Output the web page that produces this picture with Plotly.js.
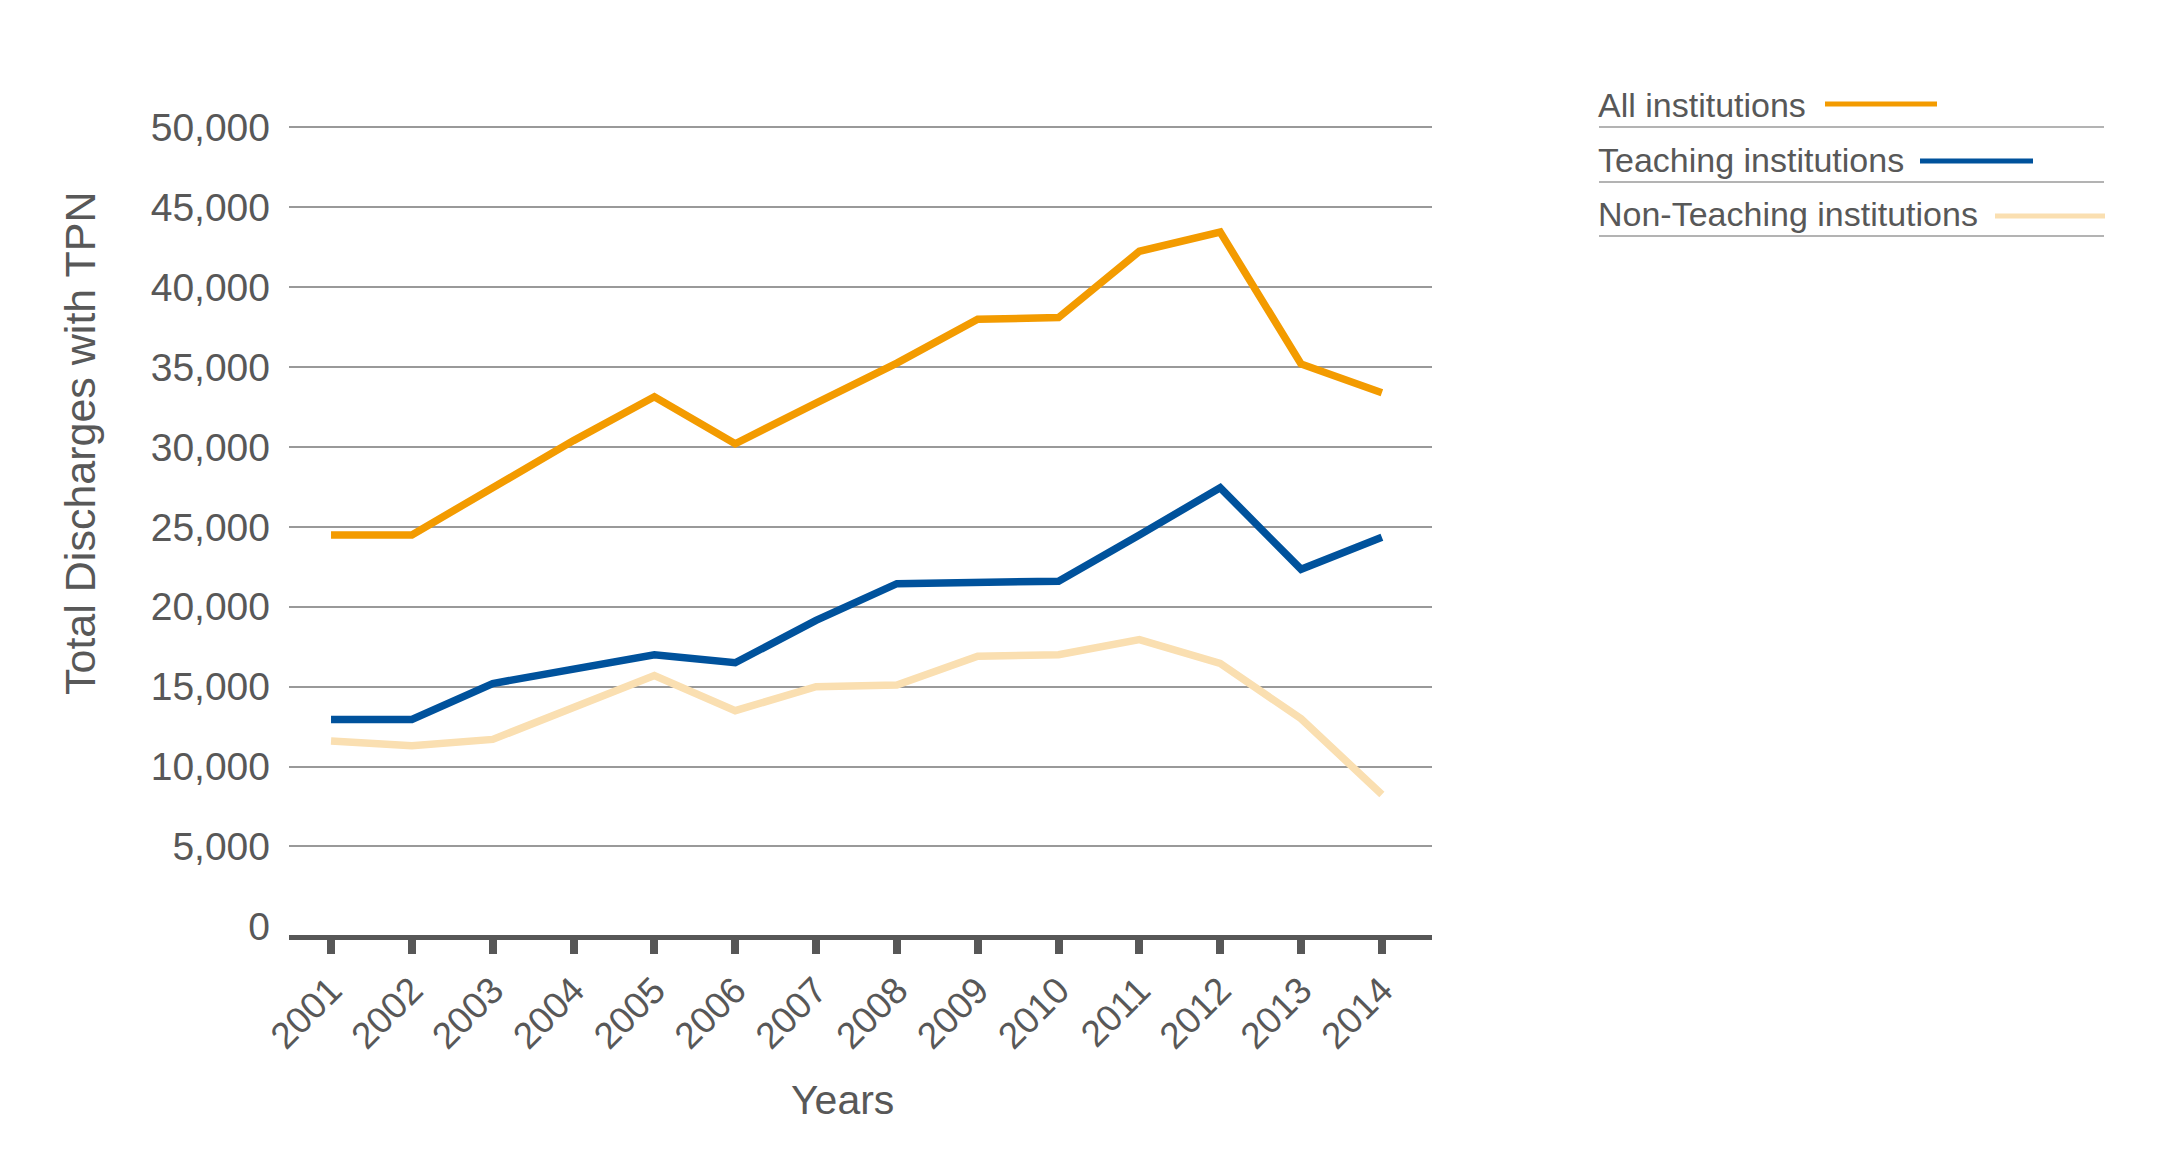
<!DOCTYPE html>
<html>
<head>
<meta charset="utf-8">
<script src="https://cdn.plot.ly/plotly-3.0.1.min.js"></script>
<style>
  html, body { margin: 0; padding: 0; background: #fff; }
  #chart { width: 2170px; height: 1157px; }
</style>
</head>
<body>
<div id="chart"></div>
<script>
/* ─── Data ─────────────────────────────────────────────────────────────── */
const years = [2001, 2002, 2003, 2004, 2005, 2006, 2007, 2008, 2009, 2010, 2011, 2012, 2013, 2014];
const allInstitutions      = [24500, 24500, 27450, 30400, 33150, 30200, 32750, 35250, 38000, 38100, 42250, 43450, 35200, 33400];
const teachingInstitutions = [12950, 12950, 15200, 16100, 17000, 16500, 19150, 21450, 21550, 21600, 24500, 27450, 22350, 24350];
const nonTeachingInstitutions = [11600, 11300, 11700, 13700, 15700, 13500, 15000, 15100, 16900, 17000, 17950, 16450, 13000, 8250];
const seriesNames = ["All institutions", "Teaching institutions", "Non-Teaching institutions"];
const seriesColors = ["#F39B00", "#00529C", "#FADFB1"];
const yTicks = [0, 5000, 10000, 15000, 20000, 25000, 30000, 35000, 40000, 45000, 50000];

/* ─── Layout geometry (pixels) ─────────────────────────────────────────── */
const W = 2170, H = 1157;
const M = { l: 289, r: 738, t: 126, b: 222 };
const plotW = W - M.l - M.r, plotH = H - M.t - M.b;
const px = x => (x - M.l) / plotW;          // page x → paper x
const py = y => (H - M.b - y) / plotH;      // page y → paper y
const TEXT = "#585858";
const FONT = "Liberation Sans, Arial, sans-serif";

const values = [allInstitutions, teachingInstitutions, nonTeachingInstitutions];
const traces = values.map((v, i) => ({
  type: "scatter", mode: "lines", x: years, y: v, name: seriesNames[i],
  line: { color: seriesColors[i], width: 7.5 }, hoverinfo: "x+y+name"
}));

/* legend drawn by hand: text first, sample line after it, rule underneath */
const legendRows = [
  { textY: 105, lineX: [1825, 1937], lineY: 104, ruleY: 127 },
  { textY: 160, lineX: [1920, 2033], lineY: 161, ruleY: 182 },
  { textY: 214, lineX: [1995, 2105], lineY: 216, ruleY: 236 },
];
const legendX = 1596, ruleEnd = 2104;

const annotations = [
  { text: "Total Discharges with TPN", xref: "paper", yref: "paper", x: px(80), y: py(444),
    textangle: -90, showarrow: false, xanchor: "center", yanchor: "middle",
    font: { family: FONT, size: 43, color: TEXT } },
  { text: "Years", xref: "paper", yref: "paper", x: px(842), y: py(1100),
    showarrow: false, xanchor: "center", yanchor: "middle",
    font: { family: FONT, size: 41, color: TEXT } },
];
const shapes = [];
legendRows.forEach((r, i) => {
  annotations.push({ text: seriesNames[i], xref: "paper", yref: "paper", x: px(legendX), y: py(r.textY),
    showarrow: false, xanchor: "left", yanchor: "middle",
    font: { family: FONT, size: 34, color: TEXT } });
  shapes.push({ type: "line", xref: "paper", yref: "paper", x0: px(r.lineX[0]), x1: px(r.lineX[1]),
    y0: py(r.lineY), y1: py(r.lineY), line: { color: seriesColors[i], width: 5 } });
  shapes.push({ type: "line", xref: "paper", yref: "paper", x0: px(legendX + 3), x1: px(ruleEnd),
    y0: py(r.ruleY), y1: py(r.ruleY), line: { color: "#9a9a9a", width: 1.5 } });
});

const layout = {
  width: W, height: H,
  margin: M,
  paper_bgcolor: "#fff", plot_bgcolor: "#fff",
  showlegend: false,
  font: { family: FONT, color: TEXT },
  xaxis: {
    range: [2000.48, 2014.62], tickvals: years, ticktext: years.map(String),
    tickangle: -45, tickfont: { family: FONT, size: 37, color: TEXT },
    ticks: "outside", ticklen: 14, tickwidth: 8, tickcolor: "#575757",
    showline: true, linecolor: "#575757", linewidth: 4.5,
    showgrid: false, zeroline: false, fixedrange: true
  },
  yaxis: {
    range: [-540, 50090], tickvals: yTicks, tickformat: ",d",
    tickfont: { family: FONT, size: 39, color: TEXT }, ticklabelstandoff: 18,
    ticks: "", showline: false,
    showgrid: true, gridcolor: "#999", gridwidth: 1.5,
    zeroline: true, zerolinecolor: "rgba(0,0,0,0)", fixedrange: true
  },
  annotations, shapes
};

Plotly.newPlot("chart", traces, layout, { displayModeBar: false, responsive: false });
</script>
</body>
</html>
